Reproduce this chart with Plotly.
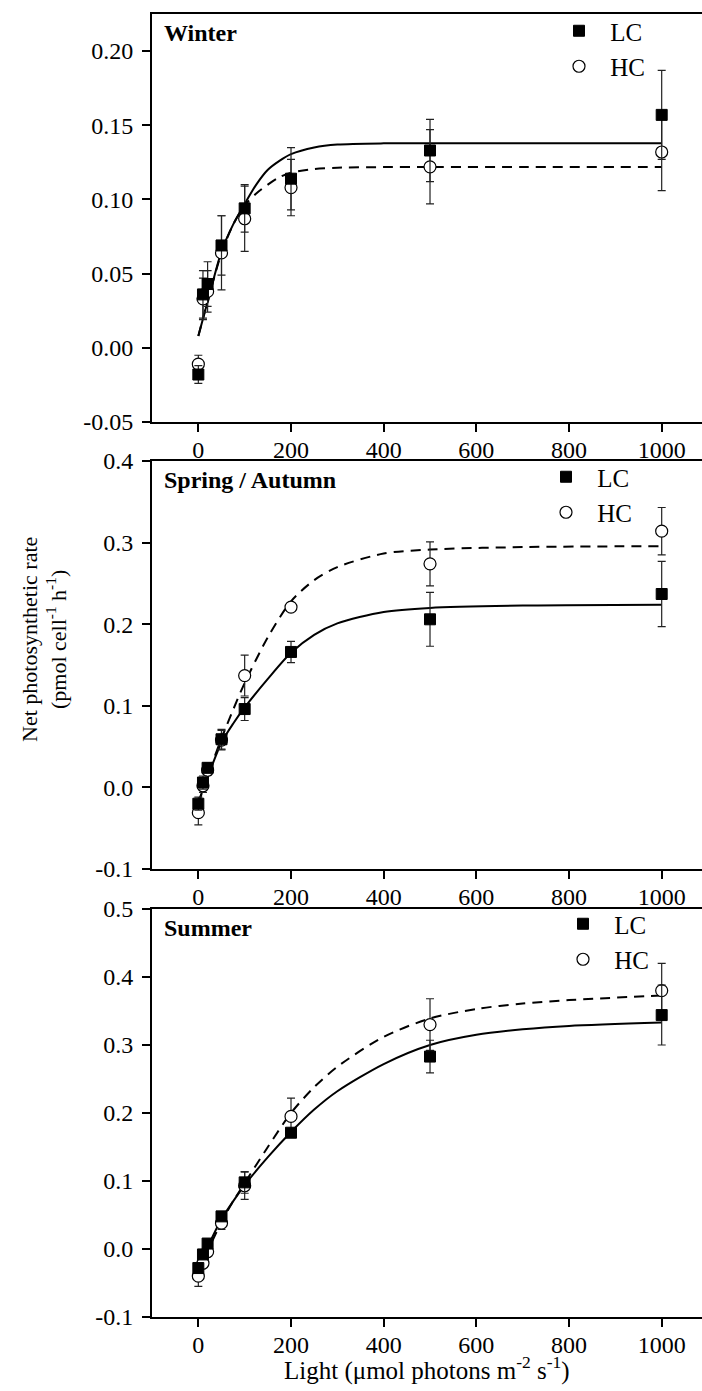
import plotly.graph_objects as go

# ---------------- data ----------------
light = [0, 10, 20, 50, 100, 200, 500, 1000]

winter_lc = [-0.018, 0.036, 0.043, 0.069, 0.094, 0.114, 0.133, 0.157]
winter_lc_err = [0.006, 0.016, 0.015, 0.020, 0.016, 0.021, 0.021, 0.030]
winter_hc = [-0.011, 0.033, 0.038, 0.064, 0.087, 0.108, 0.122, 0.132]
winter_hc_err = [0.006, 0.014, 0.014, 0.025, 0.022, 0.019, 0.025, 0.026]

spring_lc = [-0.020, 0.006, 0.024, 0.059, 0.096, 0.166, 0.206, 0.237]
spring_lc_err = [0.008, 0.008, 0.006, 0.012, 0.014, 0.013, 0.033, 0.040]
spring_hc = [-0.031, 0.002, 0.021, 0.058, 0.137, 0.221, 0.274, 0.314]
spring_hc_err = [0.015, 0.008, 0.006, 0.012, 0.025, 0.004, 0.027, 0.029]

summer_lc = [-0.028, -0.008, 0.008, 0.048, 0.098, 0.171, 0.283, 0.344]
summer_lc_err = [0.005, 0.005, 0.005, 0.006, 0.016, 0.005, 0.024, 0.044]
summer_hc = [-0.040, -0.021, -0.004, 0.038, 0.093, 0.195, 0.330, 0.380]
summer_hc_err = [0.015, 0.005, 0.005, 0.009, 0.020, 0.027, 0.038, 0.040]

# fitted curves
winter_fit_x = [0, 25, 50, 75, 100, 125, 150, 175, 200, 250, 300, 400, 500, 700, 1000]
winter_fit_lc = [0.008, 0.037, 0.065, 0.083, 0.097, 0.110, 0.120, 0.126, 0.1305, 0.135, 0.137, 0.1378, 0.1378, 0.1378, 0.1378]
winter_fit_hc = [0.008, 0.037, 0.064, 0.083, 0.096, 0.104, 0.110, 0.115, 0.118, 0.1205, 0.1214, 0.1218, 0.1218, 0.1218, 0.1218]

spring_fit_x = [0, 25, 50, 75, 100, 150, 200, 250, 300, 400, 500, 700, 1000]
spring_fit_lc = [-0.018, 0.020, 0.055, 0.078, 0.098, 0.133, 0.165, 0.187, 0.201, 0.215, 0.220, 0.2228, 0.2238]
spring_fit_hc = [-0.020, 0.022, 0.060, 0.095, 0.128, 0.184, 0.228, 0.254, 0.270, 0.2866, 0.2915, 0.2945, 0.2956]

summer_fit_x = [0, 25, 50, 75, 100, 150, 200, 250, 300, 400, 500, 600, 700, 800, 1000]
summer_fit_lc = [-0.026, 0.010, 0.044, 0.070, 0.094, 0.135, 0.172, 0.205, 0.232, 0.272, 0.300, 0.315, 0.323, 0.328, 0.333]
summer_fit_hc = [-0.034, 0.004, 0.040, 0.070, 0.097, 0.150, 0.200, 0.238, 0.268, 0.312, 0.339, 0.353, 0.361, 0.366, 0.373]

panel_titles = ["Winter", "Spring / Autumn", "Summer"]
series_names = ["LC", "HC"]

x_ticks = [0, 200, 400, 600, 800, 1000]
x_ticktext = ["0", "200", "400", "600", "800", "1000"]
y1_ticks = [-0.05, 0.00, 0.05, 0.10, 0.15, 0.20]
y1_ticktext = ["-0.05", "0.00", "0.05", "0.10", "0.15", "0.20"]
y2_ticks = [-0.1, 0.0, 0.1, 0.2, 0.3, 0.4]
y2_ticktext = ["-0.1", "0.0", "0.1", "0.2", "0.3", "0.4"]
y3_ticks = [-0.1, 0.0, 0.1, 0.2, 0.3, 0.4, 0.5]
y3_ticktext = ["-0.1", "0.0", "0.1", "0.2", "0.3", "0.4", "0.5"]

x_title = "Light (μmol photons m<sup>-2</sup> s<sup>-1</sup>)"
y_title = "Net photosynthetic rate<br>(pmol cell<sup>-1</sup> h<sup>-1</sup>)"

# ---------------- figure ----------------
FONT = "Liberation Serif"
NB = "\u00a0\u2009"
fig = go.Figure()

panels = [
    dict(xa="x", ya="y", leg="legend", fx=winter_fit_x, flc=winter_fit_lc, fhc=winter_fit_hc,
         lc=winter_lc, lce=winter_lc_err, hc=winter_hc, hce=winter_hc_err),
    dict(xa="x2", ya="y2", leg="legend2", fx=spring_fit_x, flc=spring_fit_lc, fhc=spring_fit_hc,
         lc=spring_lc, lce=spring_lc_err, hc=spring_hc, hce=spring_hc_err),
    dict(xa="x3", ya="y3", leg="legend3", fx=summer_fit_x, flc=summer_fit_lc, fhc=summer_fit_hc,
         lc=summer_lc, lce=summer_lc_err, hc=summer_hc, hce=summer_hc_err),
]

for p in panels:
    fig.add_trace(go.Scatter(x=p["fx"], y=p["fhc"], mode="lines", xaxis=p["xa"], yaxis=p["ya"],
                             line=dict(color="black", width=2, dash="10px,7px", shape="spline", smoothing=0.8),
                             showlegend=False, hoverinfo="skip"))
    fig.add_trace(go.Scatter(x=p["fx"], y=p["flc"], mode="lines", xaxis=p["xa"], yaxis=p["ya"],
                             line=dict(color="black", width=2, shape="spline", smoothing=0.8),
                             showlegend=False, hoverinfo="skip"))
    fig.add_trace(go.Scatter(x=light, y=p["hc"], mode="markers", xaxis=p["xa"], yaxis=p["ya"],
                             name=NB + series_names[1], legend=p["leg"], legendrank=2,
                             marker=dict(symbol="circle", size=12, color="white",
                                         line=dict(color="black", width=1.2)),
                             error_y=dict(type="data", array=p["hce"], visible=True,
                                          color="#222", thickness=1.2, width=4)))
    fig.add_trace(go.Scatter(x=light, y=p["lc"], mode="markers", xaxis=p["xa"], yaxis=p["ya"],
                             name=NB + series_names[0], legend=p["leg"], legendrank=1,
                             marker=dict(symbol="square", size=11, color="black",
                                         line=dict(color="black", width=1)),
                             error_y=dict(type="data", array=p["lce"], visible=True,
                                          color="#222", thickness=1.2, width=4)))

H_PLOT = 1303.0
def py(pix):
    return (1317 - pix) / H_PLOT

doms = [[py(422), 1.0], [py(869), py(461)], [0.0, py(909)]]
yt = [(y1_ticks, y1_ticktext, [-0.05, 0.225]),
      (y2_ticks, y2_ticktext, [-0.1, 0.4]),
      (y3_ticks, y3_ticktext, [-0.1, 0.5])]

layout = dict(
    width=702, height=1391,
    margin=dict(l=152, r=0, t=14, b=74),
    paper_bgcolor="white", plot_bgcolor="white",
    font=dict(family=FONT, color="black", size=24),
    showlegend=True,
)
for i in range(3):
    sx = "" if i == 0 else str(i + 1)
    layout["xaxis" + sx] = dict(
        domain=[0, 1], anchor="y" + sx, range=[-100, 1087],
        showline=True, linecolor="black", linewidth=2, mirror=True,
        ticks="outside", ticklen=8, tickwidth=2, tickcolor="black",
        tickvals=x_ticks, ticktext=x_ticktext, tickfont=dict(family=FONT, size=24, color="black"),
        ticklabelstandoff=-3,
        showgrid=False, zeroline=False)
    layout["yaxis" + sx] = dict(
        domain=doms[i], anchor="x" + sx, range=yt[i][2],
        showline=True, linecolor="black", linewidth=2, mirror=False,
        ticks="outside", ticklen=8, tickwidth=2, tickcolor="black",
        tickvals=yt[i][0], ticktext=yt[i][1], tickfont=dict(family=FONT, size=24, color="black"),
        ticklabelstandoff=4,
        showgrid=False, zeroline=False)

leg_common = dict(font=dict(family=FONT, size=25, color="black"), bgcolor="rgba(0,0,0,0)",
                  xanchor="left", yanchor="top", tracegroupgap=0)
layout["legend"] = dict(x=(559 - 152) / 550, y=py(8), **leg_common)
layout["legend2"] = dict(x=(546 - 152) / 550, y=py(454), **leg_common)
layout["legend3"] = dict(x=(563 - 152) / 550, y=py(901), **leg_common)

fig.update_layout(**layout)

# panel titles
for i, t in enumerate(panel_titles):
    sx = "" if i == 0 else str(i + 1)
    fig.add_annotation(text="<b>" + t + "</b>", xref="x" + sx + " domain", yref="y" + sx + " domain",
                       x=0.018, y=1 - 19 / 408, xanchor="left", yanchor="middle", showarrow=False,
                       font=dict(family=FONT, size=24, color="black"))

# axis titles
fig.add_annotation(text=y_title, xref="paper", yref="paper", x=(44 - 152) / 550, y=py(640),
                   xanchor="center", yanchor="middle", textangle=-90, showarrow=False,
                   font=dict(family=FONT, size=22, color="black"))
fig.add_annotation(text=x_title, xref="paper", yref="paper", x=0.5, y=py(1368),
                   xanchor="center", yanchor="middle", showarrow=False,
                   font=dict(family=FONT, size=25, color="black"))

fig.write_html("out.html", config={"displayModeBar": False},
               post_script="document.body.style.margin='0';")
